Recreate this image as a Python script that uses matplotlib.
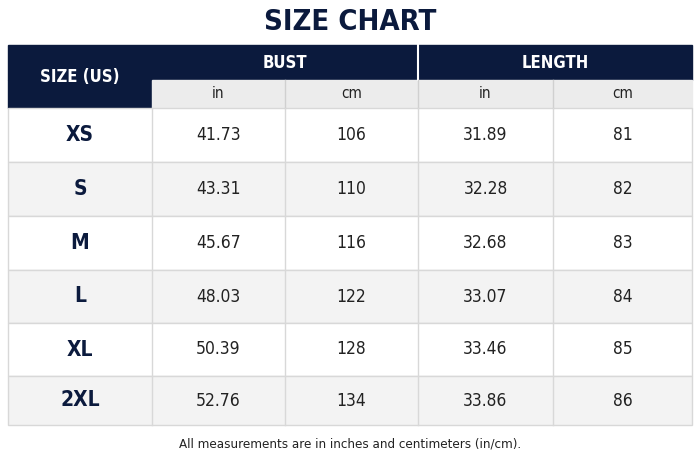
import matplotlib
matplotlib.use("Agg")
import matplotlib.pyplot as plt
from matplotlib.patches import Rectangle

sizes = ["XS", "S", "M", "L", "XL", "2XL"]
bust_in = ["41.73", "43.31", "45.67", "48.03", "50.39", "52.76"]
bust_cm = ["106", "110", "116", "122", "128", "134"]
length_in = ["31.89", "32.28", "32.68", "33.07", "33.46", "33.86"]
length_cm = ["81", "82", "83", "84", "85", "86"]

NAVY = "#0b1a3d"
W, H = 700, 467
fig = plt.figure(figsize=(7, 4.67), dpi=100)
ax = fig.add_axes([0, 0, 1, 1])
ax.set_xlim(0, W); ax.set_ylim(H, 0); ax.axis("off")
FF = dict(family="DejaVu Sans", fontstretch="condensed")

cols = [8, 152, 285, 418, 553, 692]
top, h1, h2 = 45, 80, 108
rows = [108, 162, 216, 270, 323, 376, 425]

ax.text(W/2, 22, "SIZE CHART", ha="center", va="center", fontsize=21, fontweight="bold", color=NAVY, **FF)

# header
ax.add_patch(Rectangle((cols[0], top), cols[5]-cols[0], h1-top, color=NAVY))
ax.add_patch(Rectangle((cols[0], h1), cols[1]-cols[0], h2-h1, color=NAVY))
ax.add_patch(Rectangle((cols[1], h1), cols[5]-cols[1], h2-h1, color="#ececec"))
ax.plot([cols[3], cols[3]], [top, h1], color="white", lw=1.5)
ax.text((cols[0]+cols[1])/2, (top+h2)/2, "SIZE (US)", ha="center", va="center", color="white", fontsize=12, fontweight="bold", **FF)
ax.text((cols[1]+cols[3])/2, (top+h1)/2, "BUST", ha="center", va="center", color="white", fontsize=12, fontweight="bold", **FF)
ax.text((cols[3]+cols[5])/2, (top+h1)/2, "LENGTH", ha="center", va="center", color="white", fontsize=12, fontweight="bold", **FF)
for i, lab in enumerate(["in", "cm", "in", "cm"]):
    ax.text((cols[i+1]+cols[i+2])/2, (h1+h2)/2, lab, ha="center", va="center", color="#222", fontsize=11, **FF)
for x in cols[2:5]:
    ax.plot([x, x], [h1, h2], color="#d0d0d0", lw=1)

for r in range(len(sizes)):
    y0, y1 = rows[r], rows[r+1]
    ax.add_patch(Rectangle((cols[0], y0), cols[5]-cols[0], y1-y0,
                           facecolor="white" if r % 2 == 0 else "#f3f3f3", edgecolor="#d8d8d8", lw=1))
    yc = (y0+y1)/2
    ax.text((cols[0]+cols[1])/2, yc, sizes[r], ha="center", va="center", fontsize=15, fontweight="bold", color=NAVY, **FF)
    for j, v in enumerate([bust_in[r], bust_cm[r], length_in[r], length_cm[r]]):
        ax.text((cols[j+1]+cols[j+2])/2, yc, v, ha="center", va="center", fontsize=12.5, color="#222", **FF)
for x in cols[1:5]:
    ax.plot([x, x], [h2, rows[-1]], color="#d8d8d8", lw=1)

ax.text(W/2, 444, "All measurements are in inches and centimeters (in/cm).", ha="center", va="center", fontsize=9.5, color="#222", **FF)
fig.savefig("out.png", dpi=100)
